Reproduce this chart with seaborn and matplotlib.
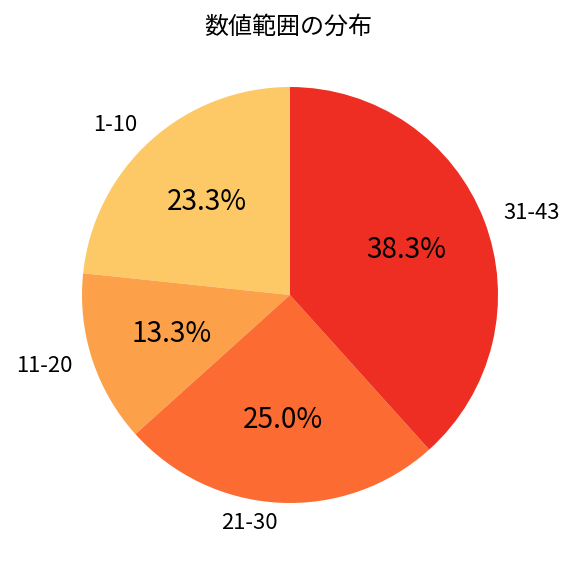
import matplotlib
matplotlib.use("Agg")
import matplotlib.pyplot as plt
import seaborn as sns

sns.set_theme(style="white")
plt.rcParams['font.family'] = ['Noto Sans CJK JP', 'DejaVu Sans']

categories = ["1-10", "11-20", "21-30", "31-43"]
counts = [14, 8, 15, 23]
colors = ["#FDC966", "#FDA04A", "#FC6B32", "#EE2E22"]

fig = plt.figure(figsize=(6, 6), dpi=96)
ax = fig.add_axes([30 / 576, 21 / 576, 520 / 576, 520 / 576])
wedges, texts, autotexts = ax.pie(
    counts, labels=categories, colors=colors, autopct="%1.1f%%",
    startangle=90, counterclock=True, pctdistance=0.6, labeldistance=1.1,
    textprops={"fontsize": 16.5, "color": "black"},
    wedgeprops={"linewidth": 0, "edgecolor": "none"},
)
for t in autotexts:
    t.set_fontsize(21)
ax.set_xlim(-1.25, 1.25)
ax.set_ylim(-1.25, 1.25)
ax.set_aspect("equal")
fig.text(0.5, 1 - 27 / 576, "数値範囲の分布", fontsize=18, ha="center", va="center", color="black")
fig.savefig("out.png", dpi=96)
